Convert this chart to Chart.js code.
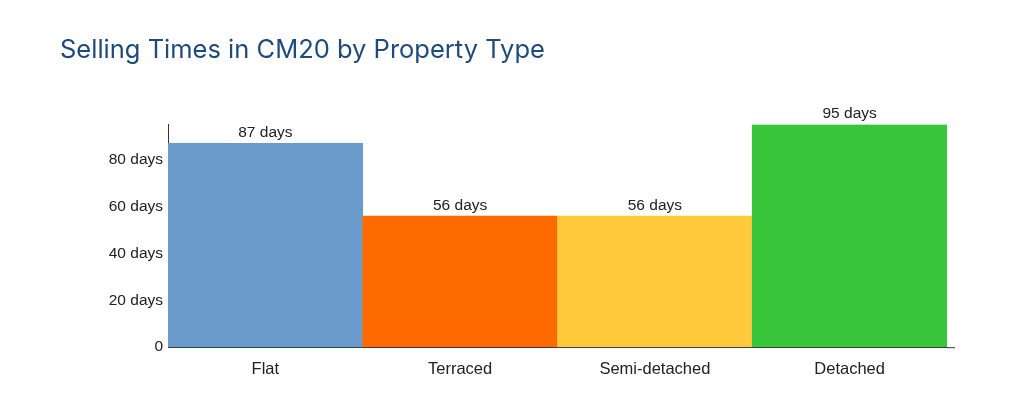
<!DOCTYPE html>
<html>
<head>
<meta charset="utf-8">
<script src="https://cdn.jsdelivr.net/npm/chart.js@4"></script>
<style>
  html, body { margin: 0; padding: 0; background: #fff; }
  #wrap { width: 1024px; height: 416px; }
</style>
</head>
<body>
<div id="wrap"><canvas id="chart" width="1024" height="416"></canvas></div>
<script>
// chart data
const categories = ['Flat', 'Terraced', 'Semi-detached', 'Detached'];
const sellingDays = [87, 56, 56, 95];
const barColors = ['#6a9bcb', '#ff6a00', '#ffc93c', '#3ac63a'];
const yTicks = [0, 20, 40, 60, 80];

// draws "NN days" above each bar, and the little axis stub past the last bar
const valueLabels = {
    id: 'valueLabels',
    afterDatasetsDraw(chart) {
        const ctx = chart.ctx;
        const meta = chart.getDatasetMeta(0);
        const area = chart.chartArea;
        ctx.save();
        ctx.strokeStyle = '#333';
        ctx.lineWidth = 1;
        ctx.beginPath();
        ctx.moveTo(area.right, area.bottom + 0.5);
        ctx.lineTo(area.right + 8, area.bottom + 0.5);
        ctx.stroke();
        ctx.font = '15.5px "Liberation Sans", Arial, sans-serif';
        ctx.fillStyle = '#222';
        ctx.textAlign = 'center';
        ctx.textBaseline = 'bottom';
        meta.data.forEach((bar, i) => {
            ctx.fillText(sellingDays[i] + ' days', bar.x, bar.y - 3);
        });
        ctx.restore();
    }
};

new Chart(document.getElementById('chart'), {
    type: 'bar',
    data: {
        labels: categories,
        datasets: [{
            data: sellingDays,
            backgroundColor: barColors,
            borderWidth: 0,
            barPercentage: 1,
            categoryPercentage: 1
        }]
    },
    options: {
        responsive: false,
        animation: false,
        layout: { padding: { top: 35, left: 60, right: 77, bottom: 25 } },
        plugins: {
            legend: { display: false },
            tooltip: { enabled: false },
            title: {
                display: true,
                text: 'Selling Times in CM20 by Property Type',
                align: 'start',
                color: '#1f4a7c',
                font: { family: 'Inter, "Open Sans", sans-serif', size: 25.5, weight: 'normal' },
                padding: { top: 0, bottom: 59 }
            }
        },
        scales: {
            x: {
                grid: { display: false, drawTicks: false },
                border: { color: '#333', width: 1 },
                ticks: {
                    color: '#222',
                    padding: 12,
                    font: { family: '"Liberation Sans", Arial, sans-serif', size: 16.5 }
                }
            },
            y: {
                min: 0,
                max: 95,
                afterFit: (scale) => { scale.width = 108; },
                afterBuildTicks: (scale) => { scale.ticks = yTicks.map(v => ({ value: v })); },
                grid: { display: false, drawTicks: false },
                border: { color: '#333', width: 1 },
                ticks: {
                    color: '#222',
                    padding: 5,
                    font: { family: '"Liberation Sans", Arial, sans-serif', size: 15.5 },
                    callback: (v) => v === 0 ? '0' : v + ' days'
                }
            }
        }
    },
    plugins: [valueLabels]
});
</script>
</body>
</html>
